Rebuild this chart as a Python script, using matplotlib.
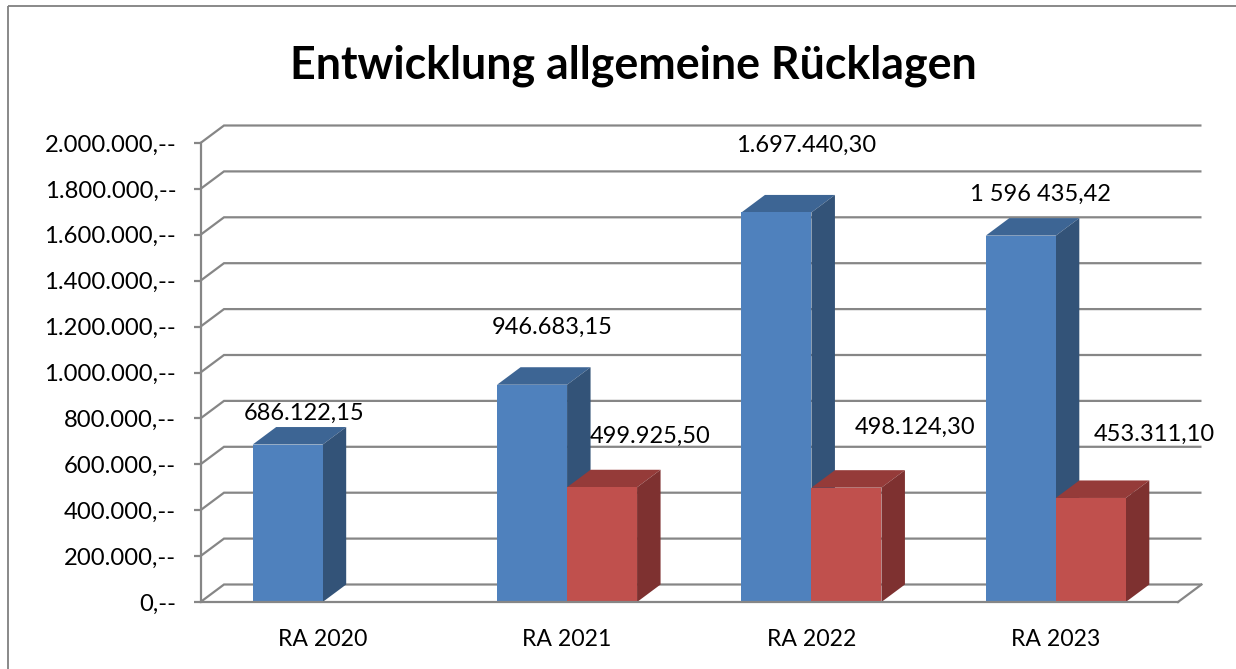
import matplotlib
matplotlib.use("Agg")
import matplotlib.pyplot as plt
from matplotlib.patches import Polygon
from matplotlib.lines import Line2D

categories = ["RA 2020", "RA 2021", "RA 2022", "RA 2023"]
blue_values = [686122.15, 946683.15, 1697440.30, 1596435.42]
red_values = [None, 499925.50, 498124.30, 453311.10]
blue_labels = ["686.122,15", "946.683,15", "1.697.440,30", "1 596 435,42"]
red_labels = [None, "499.925,50", "498.124,30", "453.311,10"]
y_ticks = [0, 200000, 400000, 600000, 800000, 1000000, 1200000, 1400000,
           1600000, 1800000, 2000000]
y_tick_labels = ["0,--", "200.000,--", "400.000,--", "600.000,--", "800.000,--",
                 "1.000.000,--", "1.200.000,--", "1.400.000,--", "1.600.000,--",
                 "1.800.000,--", "2.000.000,--"]
title = "Entwicklung allgemeine Rücklagen"

W, H = 1236, 669
plt.rcParams["font.family"] = ["Lato", "DejaVu Sans"]
fig = plt.figure(figsize=(W / 100, H / 100), dpi=100, facecolor="white")
L, R, T, B = 200.5, 1178.0, 143.0, 602.0
ax = fig.add_axes([L / W, 1 - B / H, (R - L) / W, (B - T) / H])
ax.set_xlim(0, 4)
ax.set_ylim(0, 2000000)
ax.patch.set_alpha(0)

GRID = "#868686"
LW = 1.6
px_x = 4 / (R - L)
px_y = 2000000 / (B - T)
DX, DY = 23.5 * px_x, 17.5 * px_y
BAR_W = 70 * px_x

# back wall gridlines with their diagonal returns
for v in y_ticks:
    ax.plot([0, DX, 4 + DX], [v, v + DY, v + DY], color=GRID, lw=LW,
            clip_on=False, zorder=1, solid_joinstyle="miter", solid_capstyle="butt")
ax.plot([4, 4 + DX], [0, DY], color=GRID, lw=LW, clip_on=False, zorder=1)


def bar3d(x0, v, front, top, side, z):
    ax.bar(x0, v, width=BAR_W, align="edge", color=front, linewidth=0, zorder=z + 0.2)
    x1 = x0 + BAR_W
    ax.add_patch(Polygon([(x0, v), (x1, v), (x1 + DX, v + DY), (x0 + DX, v + DY)],
                         closed=True, fc=top, ec="none", zorder=z, clip_on=False))
    ax.add_patch(Polygon([(x1, 0), (x1 + DX, DY), (x1 + DX, v + DY), (x1, v)],
                         closed=True, fc=side, ec="none", zorder=z + 0.1, clip_on=False))


for i in range(len(categories)):
    c = i + 0.5
    bar3d(c - BAR_W, blue_values[i], "#4F81BD", "#3D6594", "#335378", 3 + i)
    if red_values[i] is not None:
        bar3d(c, red_values[i], "#C0504D", "#953B39", "#7E3130", 3.5 + i)

# data labels: offset from the bar's value position, in pixels
blue_off = [(-19, 31), (-15, 57), (-5, 67), (-15, 41)]
red_off = [None, (83, 51), (104, 60), (99, 64)]
LABEL_FS = 17
for i in range(len(categories)):
    c = i + 0.5
    ax.annotate(blue_labels[i], (c, blue_values[i]),
                xytext=(blue_off[i][0] * 0.72, blue_off[i][1] * 0.72),
                textcoords="offset points", ha="center", va="center",
                fontsize=LABEL_FS, color="black", zorder=20, annotation_clip=False)
    if red_values[i] is not None:
        ax.annotate(red_labels[i], (c, red_values[i]),
                    xytext=(red_off[i][0] * 0.72, red_off[i][1] * 0.72),
                    textcoords="offset points", ha="center", va="center",
                    fontsize=LABEL_FS, color="black", zorder=20, annotation_clip=False)

for s in ("top", "right"):
    ax.spines[s].set_visible(False)
for s in ("left", "bottom"):
    ax.spines[s].set_color(GRID)
    ax.spines[s].set_linewidth(LW)
    ax.spines[s].set_zorder(2)
ax.spines["bottom"].set_zorder(10)
ax.set_yticks(y_ticks, y_tick_labels, fontsize=17.2)
ax.set_xticks([i + 0.5 for i in range(len(categories))], categories, fontsize=16.6)
ax.tick_params(axis="y", length=5, width=LW, color=GRID, pad=12.5)
ax.tick_params(axis="x", length=0, pad=19.5)

fig.text(633 / W, 1 - 66 / H, title, ha="center", va="center",
         fontsize=32.1, fontweight="bold", color="black")

# outer chart frame
frame = dict(color="#808080", lw=1.3, transform=fig.transFigure, solid_capstyle="butt")
fig.add_artist(Line2D([8 / W, 8 / W], [0, 1 - 5.5 / H], **frame))
fig.add_artist(Line2D([8 / W, 1], [1 - 5.5 / H, 1 - 5.5 / H], **frame))

fig.savefig("out.png", dpi=100, facecolor="white")
